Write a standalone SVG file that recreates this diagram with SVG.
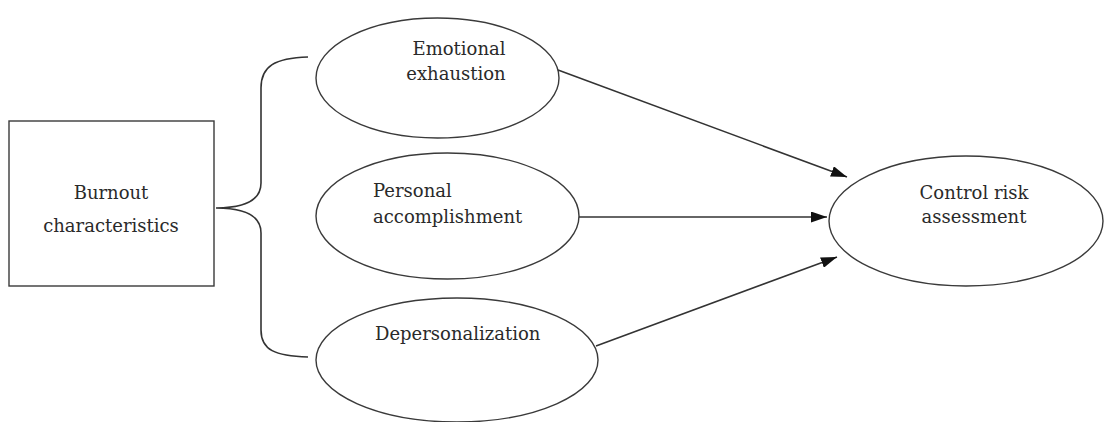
<svg xmlns="http://www.w3.org/2000/svg" width="1105" height="422" viewBox="0 0 1105 422">
<style>
.node{fill:#fff;stroke:#3a3a3a;stroke-width:1.4}
.lbl{font-family:"DejaVu Serif","Liberation Serif",serif;font-size:18px;fill:#2a2a2a}
.conn{fill:none;stroke:#333;stroke-width:1.6}
</style>
<defs>
<marker id="arr" markerUnits="userSpaceOnUse" markerWidth="17" markerHeight="11" refX="16" refY="5.5" orient="auto">
<path d="M0,0 L16,5.5 L0,11 z" fill="#111"/>
</marker>
</defs>
<rect width="1105" height="422" fill="#fff"/>
<g id="burnout">
<rect class="node" x="9" y="121" width="205" height="165"/>
<text class="lbl" x="111" y="199" text-anchor="middle">Burnout</text>
<text class="lbl" x="111" y="232" text-anchor="middle">characteristics</text>
</g>
<g id="emotional">
<ellipse class="node" cx="437.5" cy="78" rx="121.5" ry="60"/>
<text class="lbl" x="459" y="55" text-anchor="middle">Emotional</text>
<text class="lbl" x="456" y="80" text-anchor="middle">exhaustion</text>
</g>
<g id="personal">
<ellipse class="node" cx="447.5" cy="216" rx="131.5" ry="63"/>
<text class="lbl" x="373" y="197">Personal</text>
<text class="lbl" x="373" y="223">accomplishment</text>
</g>
<g id="depersonalization">
<ellipse class="node" cx="457" cy="360" rx="141" ry="62"/>
<text class="lbl" x="375" y="340">Depersonalization</text>
</g>
<g id="control">
<ellipse class="node" cx="966" cy="221" rx="137" ry="65"/>
<text class="lbl" x="974" y="199" text-anchor="middle">Control risk</text>
<text class="lbl" x="974" y="223" text-anchor="middle">assessment</text>
</g>
<g id="connectors">
<path class="conn" d="M308,57 C275,58 261,66 261,88 L261,183 C261,200 245,208 216,208 C245,208 261,216 261,233 L261,330 C261,350 275,356 308,357"/>
<line class="conn" x1="558" y1="70" x2="847" y2="177" marker-end="url(#arr)"/>
<line class="conn" x1="579" y1="217" x2="827" y2="217" marker-end="url(#arr)"/>
<line class="conn" x1="596" y1="346" x2="837" y2="257" marker-end="url(#arr)"/>
</g>
</svg>
